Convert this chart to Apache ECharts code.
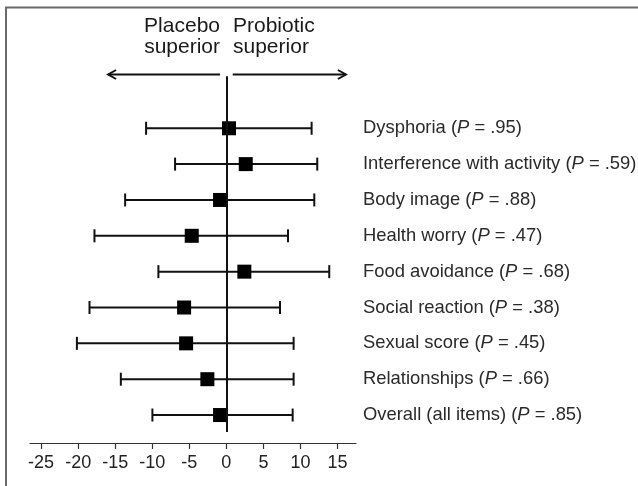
<!DOCTYPE html>
<html>
<head>
<meta charset="utf-8">
<script src="https://cdn.jsdelivr.net/npm/echarts@6/dist/echarts.min.js"></script>
<style>
html,body{margin:0;padding:0;background:#fff;}
#chart{width:638px;height:486px;}
</style>
</head>
<body>
<div id="chart"></div>
<script>
// ---- data ----
const categories = ['Dysphoria', 'Interference with activity', 'Body image', 'Health worry',
  'Food avoidance', 'Social reaction', 'Sexual score', 'Relationships', 'Overall (all items)'];
const pValues = ['.95', '.59', '.88', '.47', '.68', '.38', '.45', '.66', '.85'];
const estimates = [0.36, 2.62, -0.85, -4.67, 2.43, -5.70, -5.43, -2.56, -0.85];
const lowerCI = [-10.83, -6.92, -13.66, -17.80, -9.17, -18.47, -20.17, -14.24, -9.98];
const upperCI = [11.51, 12.27, 11.87, 8.32, 13.89, 7.24, 9.08, 9.08, 8.95];
const xTicks = [-25, -20, -15, -10, -5, 0, 5, 10, 15];
const xRange = [-26.5, 17.5];
const yRange = [-1.5, 8.78];
const arrowSpans = [[-0.85, -15.96], [0.86, 16.14]]; // [start, tip]
const zeroLineSpan = [-1.45, 8.47];
const headerLeft = 'Placebo\nsuperior';
const headerRight = 'Probiotic\nsuperior';

const FONT = '"Liberation Sans", Arial, Helvetica, sans-serif';
const INK = '#111';

const forestData = categories.map((c, i) => [i, lowerCI[i], estimates[i], upperCI[i]]);
const arrowData = arrowSpans.map(a => [a[0], a[1], yRange[0]]);

const chart = echarts.init(document.getElementById('chart'), null, {renderer: 'canvas'});

chart.setOption({
  animation: false,
  backgroundColor: '#fff',
  grid: {left: 30, top: 74.5, width: 326, height: 368.5, containLabel: false},
  xAxis: {
    type: 'value', min: xRange[0], max: xRange[1],
    splitLine: {show: false},
    axisLine: {show: true, onZero: false, lineStyle: {color: '#333', width: 1.2}},
    axisTick: {show: true, customValues: xTicks, length: 6, lineStyle: {color: '#333', width: 1.2}},
    axisLabel: {customValues: xTicks, margin: 11, fontSize: 18, fontFamily: FONT, color: '#222'}
  },
  yAxis: {
    type: 'value', inverse: true, min: yRange[0], max: yRange[1], show: false
  },
  graphic: [
    {type: 'rect', shape: {x: 6, y: 7.5, width: 700, height: 600},
     style: {fill: 'none', stroke: '#6a6a6a', lineWidth: 2}, silent: true},
    {type: 'text', x: 220, y: 16, style: {text: headerLeft, font: '21px ' + FONT, lineHeight: 20.5,
      fill: '#1a1a1a', textAlign: 'right', textVerticalAlign: 'top', align: 'right', verticalAlign: 'top'}},
    {type: 'text', x: 233, y: 16, style: {text: headerRight, font: '21px ' + FONT, lineHeight: 20.5,
      fill: '#1a1a1a', textAlign: 'left', textVerticalAlign: 'top', align: 'left', verticalAlign: 'top'}}
  ],
  series: [
    {
      type: 'custom',
      name: 'arrows',
      data: arrowData,
      clip: false,
      renderItem: function (params, api) {
        const s = api.coord([api.value(0), api.value(2)]);
        const t = api.coord([api.value(1), api.value(2)]);
        const dir = t[0] > s[0] ? 1 : -1;
        return {
          type: 'group',
          children: [
            {type: 'line', shape: {x1: s[0], y1: s[1], x2: t[0], y2: t[1]},
             style: {stroke: INK, lineWidth: 2}},
            {type: 'polyline', shape: {points: [[t[0] - dir * 8, t[1] - 4.5], [t[0], t[1]], [t[0] - dir * 8, t[1] + 4.5]]},
             style: {stroke: INK, lineWidth: 2, fill: 'none'}}
          ]
        };
      }
    },
    {
      type: 'custom',
      name: 'forest',
      data: forestData,
      clip: false,
      markLine: {
        silent: true, symbol: 'none', label: {show: false},
        lineStyle: {color: INK, width: 2, type: 'solid'},
        data: [[{coord: [0, zeroLineSpan[0]]}, {coord: [0, zeroLineSpan[1]]}]]
      },
      renderItem: function (params, api) {
        const i = api.value(0);
        const lo = api.coord([api.value(1), i]);
        const est = api.coord([api.value(2), i]);
        const hi = api.coord([api.value(3), i]);
        const capH = 6.5;
        const sq = 14;
        const right = api.coord([xRange[1], i]);
        const label = '{n|' + categories[i] + ' (}{i|P}{n| = ' + pValues[i] + ')}';
        return {
          type: 'group',
          children: [
            {type: 'line', shape: {x1: lo[0], y1: lo[1], x2: hi[0], y2: hi[1]}, style: {stroke: INK, lineWidth: 2}},
            {type: 'line', shape: {x1: lo[0], y1: lo[1] - capH, x2: lo[0], y2: lo[1] + capH}, style: {stroke: INK, lineWidth: 2}},
            {type: 'line', shape: {x1: hi[0], y1: hi[1] - capH, x2: hi[0], y2: hi[1] + capH}, style: {stroke: INK, lineWidth: 2}},
            {type: 'rect', shape: {x: est[0] - sq / 2, y: est[1] - sq / 2, width: sq, height: sq}, style: {fill: '#000'}, z2: 10},
            {type: 'text', x: right[0] + 7, y: right[1],
             style: {text: label, fill: '#2a2a2a', fontSize: 18.4, fontFamily: FONT,
               textVerticalAlign: 'middle', verticalAlign: 'middle', textAlign: 'left', align: 'left',
               rich: {
                 n: {fontSize: 18.4, fontFamily: FONT, fill: '#2a2a2a'},
                 i: {fontSize: 18.4, fontFamily: FONT, fill: '#2a2a2a', fontStyle: 'italic'}
               }}}
          ]
        };
      }
    }
  ]
});
</script>
</body>
</html>
